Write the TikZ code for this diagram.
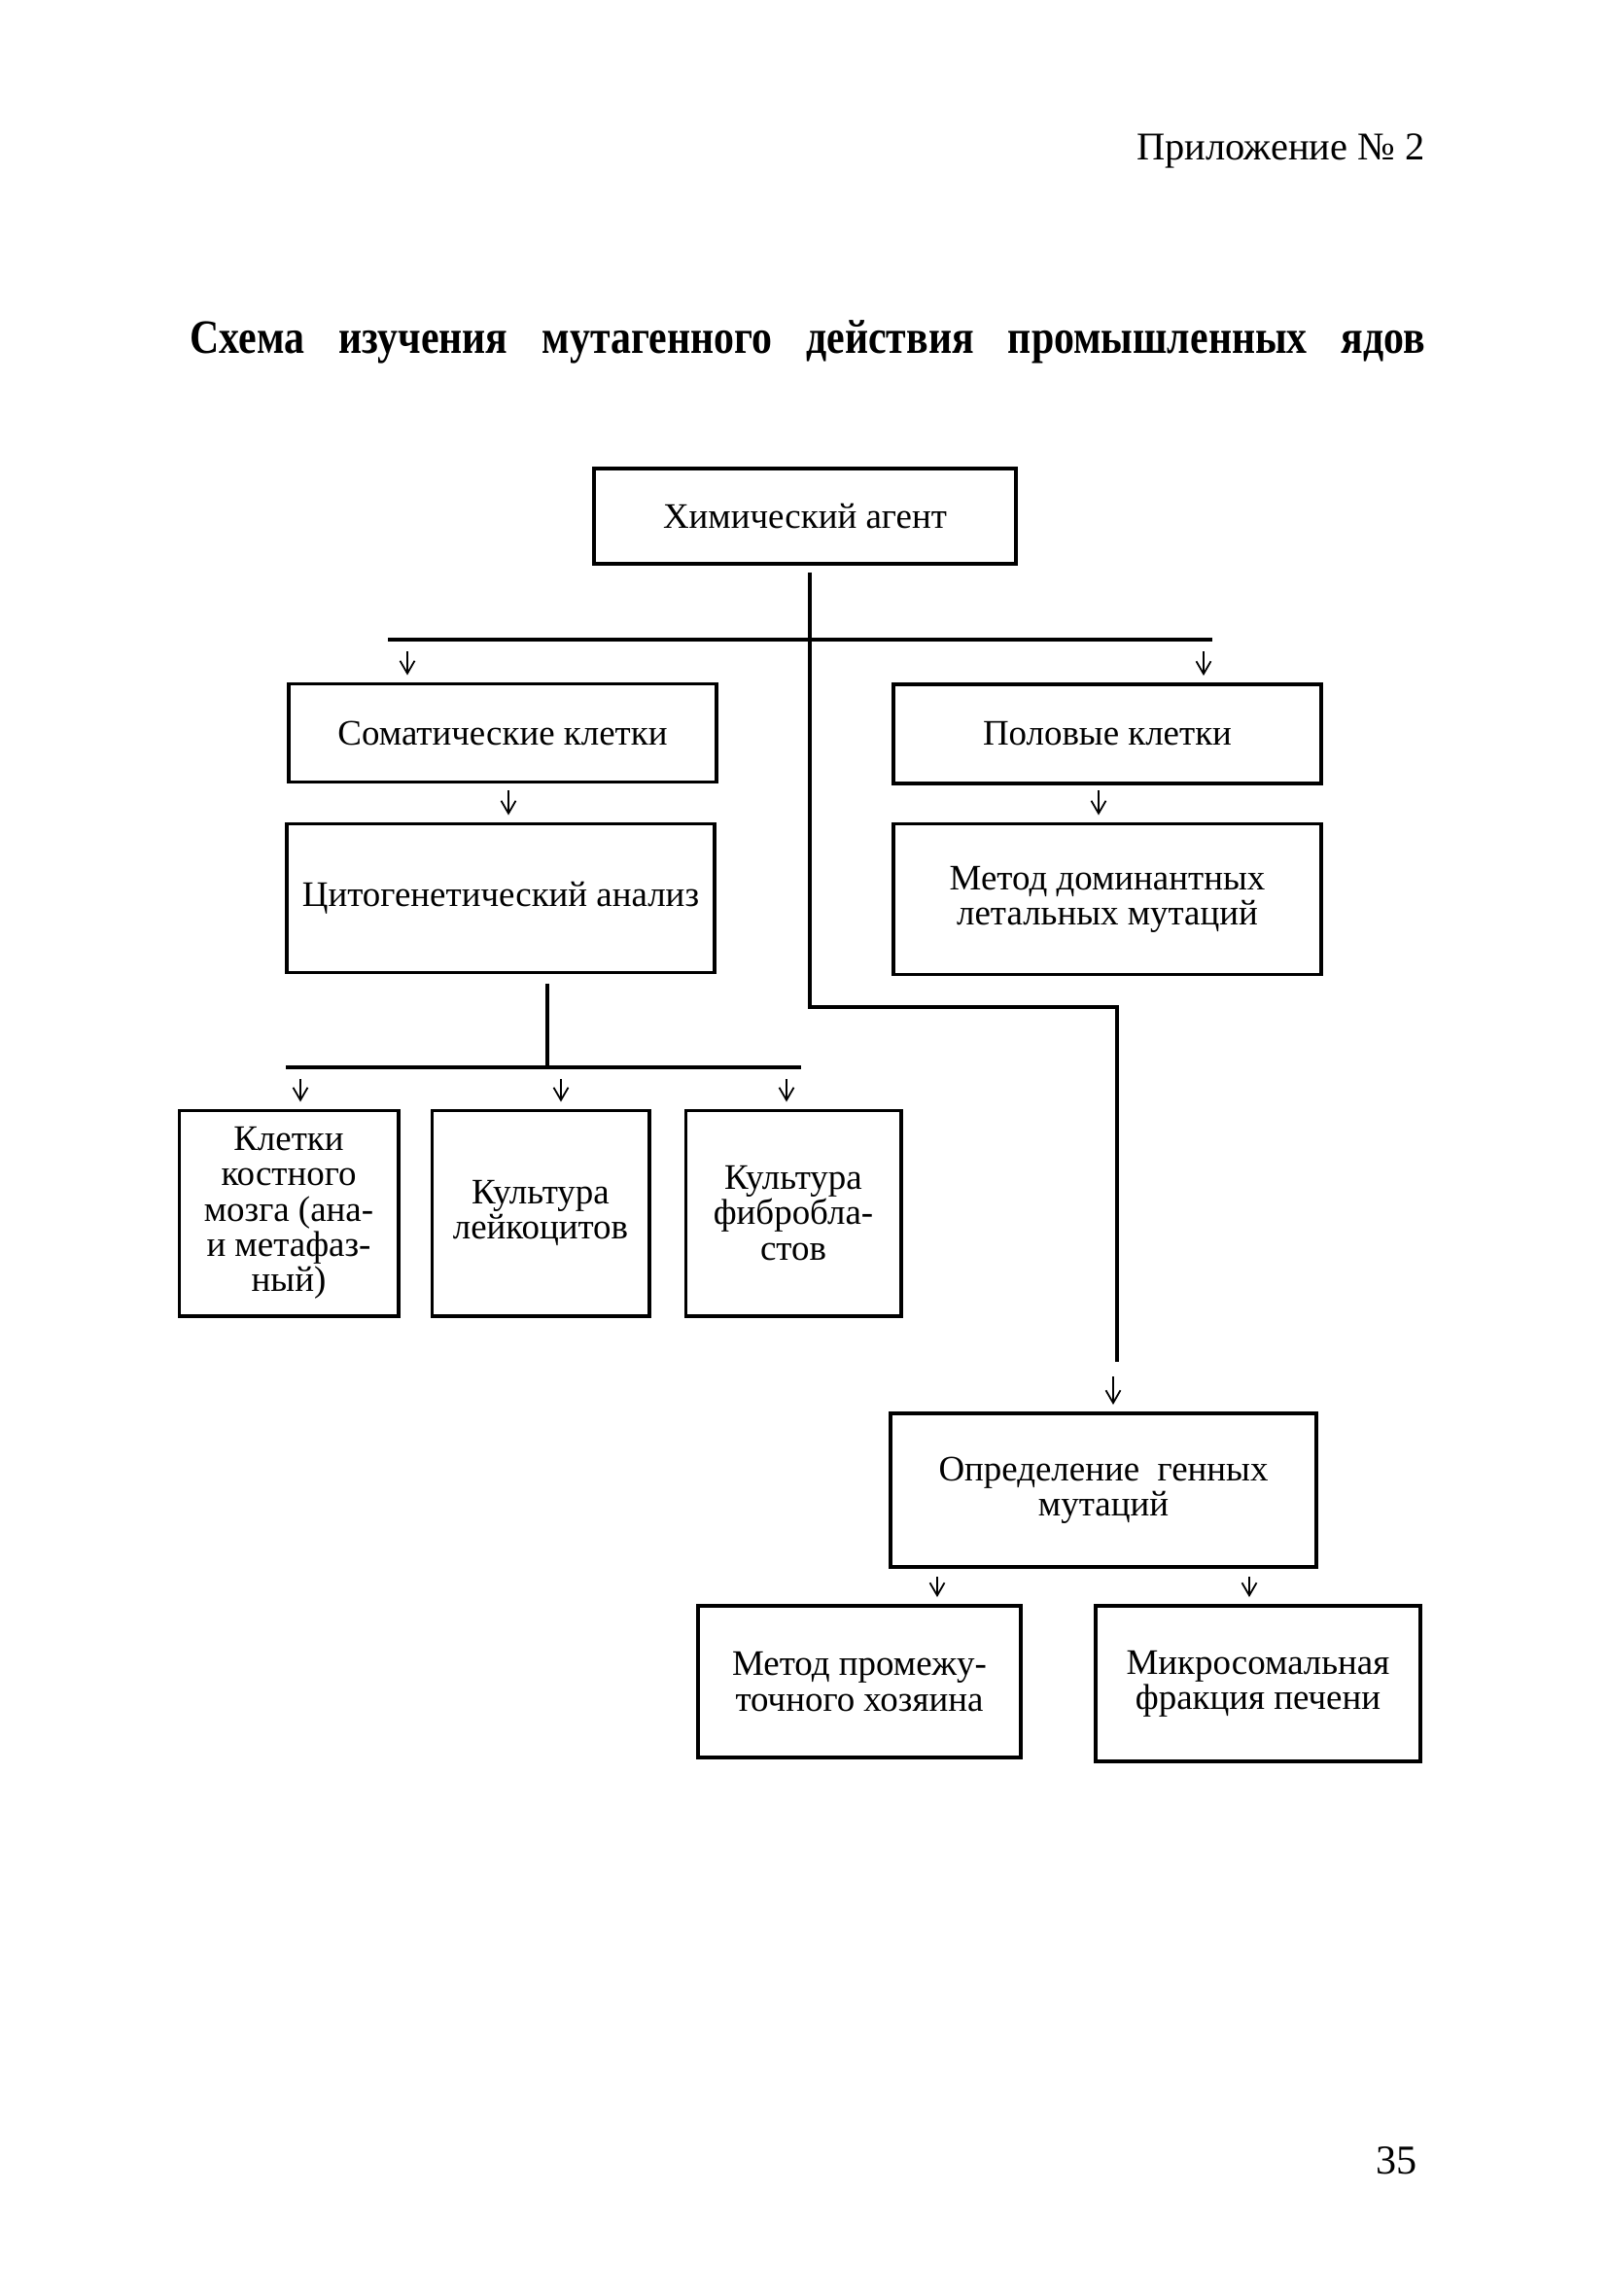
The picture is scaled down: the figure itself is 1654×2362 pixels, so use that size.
\documentclass[tikz,border=0pt]{standalone}
\usepackage{fontspec}
\setmainfont{Liberation Serif}
\newfontfamily\titlefont{Liberation Serif}[FakeStretch=0.85]
\usetikzlibrary{arrows.meta}
\begin{document}
\begin{tikzpicture}[x=0.01cm,y=-0.01cm,
  box/.style={draw, line width=1.1pt, align=center, inner sep=2pt,
    font=\fontsize{10.5}{10.3}\selectfont},
  conn/.style={line width=1.1pt},
  arr/.style={line width=0.5pt, -{Straight Barb[length=1.3mm,width=1.5mm]}, shorten >=0.07cm},
  plain/.style={inner sep=0pt}
]
\fill[white] (0,0) rectangle (1654,2362);
\useasboundingbox (0,0) rectangle (1654,2362);

% headings
\node[plain, anchor=base east, font=\fontsize{11.5}{13}\selectfont] (app) at (1466,164) {Приложение №\ 2};
\node[plain, anchor=base, font=\titlefont\fontsize{14}{16}\selectfont\bfseries] (title) at (831,363)
  {\makebox[12.7cm][s]{Схема изучения мутагенного действия промышленных ядов}};
\node[plain, anchor=base east, font=\fontsize{12}{14}\selectfont] (page) at (1458,2236) {35};

% boxes
\node[box, minimum width=4.33cm, minimum height=0.98cm] (agent) at (828,531) {Химический агент};
\node[box, minimum width=4.4cm, minimum height=1.01cm] (soma) at (517,754) {Соматические клетки};
\node[box, minimum width=4.4cm, minimum height=1.02cm] (sex) at (1139,755) {Половые клетки};
\node[box, minimum width=4.39cm, minimum height=1.53cm] (cyto) at (515,924) {Цитогенетический анализ};
\node[box, minimum width=4.4cm, minimum height=1.55cm] (dom) at (1139,925) {Метод доминантных\\летальных мутаций};
\node[box, minimum width=2.25cm, minimum height=2.11cm] (marrow) at (297,1248) {Клетки\\костного\\мозга (ана-\\и метафаз-\\ный)};
\node[box, minimum width=2.23cm, minimum height=2.11cm] (leuk) at (556,1248) {Культура\\лейкоцитов};
\node[box, minimum width=2.21cm, minimum height=2.11cm] (fibro) at (816,1248) {Культура\\фибробла-\\стов};
\node[box, minimum width=4.38cm, minimum height=1.58cm] (gene) at (1135,1533) {Определение\ \ генных\\мутаций};
\node[box, minimum width=3.32cm, minimum height=1.56cm] (host) at (884,1730) {Метод промежу-\\точного хозяина};
\node[box, minimum width=3.34cm, minimum height=1.60cm] (micro) at (1294,1732) {Микросомальная\\фракция печени};

% junction coordinates
\coordinate (barL) at (399,658);
\coordinate (barR) at (1247,658);
\coordinate (barM) at (833,658);
\coordinate (j1) at (833,1036);
\coordinate (j2) at (1149,1036);
\coordinate (j3) at (1149,1401);
\coordinate (cyM) at (563,1098);
\coordinate (bar2L) at (294,1098);
\coordinate (bar2R) at (824,1098);

% arrow starts
\coordinate (aSoma) at (419,670);
\coordinate (aSex) at (1238,670);
\coordinate (aCyto) at (523,813);
\coordinate (aDom) at (1130,813);
\coordinate (aMar) at (309,1110);
\coordinate (aLeu) at (577,1110);
\coordinate (aFib) at (809,1110);
\coordinate (aGene) at (1145,1416);
\coordinate (aHost) at (964,1622);
\coordinate (aMic) at (1285,1622);

% connectors
\draw[conn, shorten <=0.07cm] (agent.south -| barM) -- (barM);
\draw[conn] (barL) -- (barR);
\draw[conn] (barM) -- (j1) -- (j2) -- (j3);
\draw[conn, shorten <=0.09cm] (cyto.south -| cyM) -- (cyM);
\draw[conn] (bar2L) -- (bar2R);

% arrows
\draw[arr] (aSoma) -- (aSoma |- soma.north);
\draw[arr] (aSex) -- (aSex |- sex.north);
\draw[arr] (aCyto) -- (aCyto |- cyto.north);
\draw[arr] (aDom) -- (aDom |- dom.north);
\draw[arr] (aMar) -- (aMar |- marrow.north);
\draw[arr] (aLeu) -- (aLeu |- leuk.north);
\draw[arr] (aFib) -- (aFib |- fibro.north);
\draw[arr] (aGene) -- (aGene |- gene.north);
\draw[arr] (aHost) -- (aHost |- host.north);
\draw[arr] (aMic) -- (aMic |- micro.north);
\end{tikzpicture}
\end{document}
